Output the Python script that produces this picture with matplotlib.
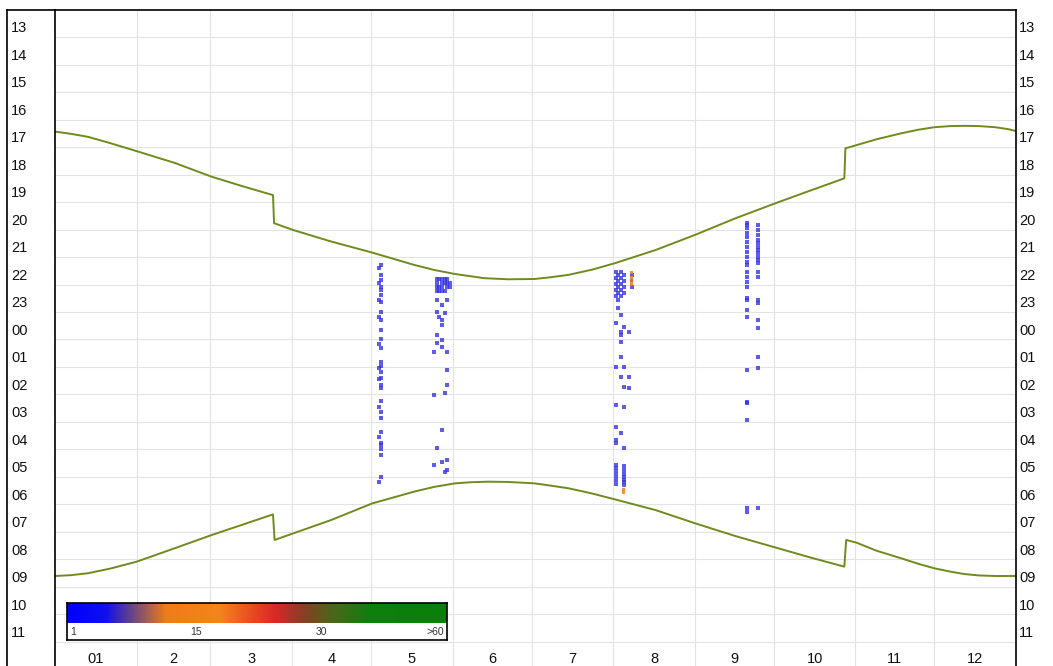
import numpy as np
import matplotlib
matplotlib.use("Agg")
import matplotlib.pyplot as plt
from matplotlib.colors import LinearSegmentedColormap
from matplotlib.lines import Line2D

plt.rcParams["font.family"] = ["Liberation Sans", "DejaVu Sans"]

W, H = 1053, 666

# months along x (day of year), hours noon -> noon along y
month_labels = ["01", "2", "3", "4", "5", "6", "7", "8", "9", "10", "11", "12"]
month_len = [31, 28, 31, 30, 31, 30, 31, 31, 30, 31, 30, 31]
hour_labels = ["13", "14", "15", "16", "17", "18", "19", "20", "21", "22", "23",
               "00", "01", "02", "03", "04", "05", "06", "07", "08", "09", "10", "11"]

# evening and morning twilight (clock time, DST jumps in March / October)
dusk_day = [0, 6, 12.5, 21, 31, 45.5, 59.5, 71, 82.8, 83.2, 90.5, 105, 120.5, 136.5,
            144, 152, 163, 172, 182, 188, 195, 204, 212.5, 228, 243, 258.5, 273.5,
            287, 299.8, 300.2, 304.5, 312, 321.5, 328, 334, 340, 345.5, 351, 357,
            362, 365]
dusk_hour = [17.44, 17.52, 17.63, 17.86, 18.15, 18.58, 19.08, 19.42, 19.75, 20.77,
             21.02, 21.44, 21.84, 22.29, 22.47, 22.62, 22.77, 22.81, 22.80, 22.74,
             22.65, 22.46, 22.23, 21.75, 21.20, 20.59, 20.05, 19.58, 19.14, 18.05,
             17.93, 17.72, 17.50, 17.37, 17.28, 17.24, 17.23, 17.24, 17.28, 17.35,
             17.42]
dawn_day = [0, 6, 12.5, 21, 31, 45.5, 59.5, 71, 82.8, 83.4, 90.5, 105, 120.5, 136.5,
            144, 152, 158, 164.5, 172, 182, 188, 195, 204, 212.5, 228, 243, 258.5,
            273.5, 287, 299.8, 300.5, 304.5, 312, 321.5, 328, 334, 340, 345.5, 351,
            357, 365]
dawn_hour = [9.60, 9.57, 9.50, 9.33, 9.08, 8.59, 8.11, 7.74, 7.36, 8.29, 8.05, 7.56,
             6.96, 6.53, 6.36, 6.23, 6.19, 6.17, 6.18, 6.23, 6.31, 6.41, 6.60, 6.81,
             7.20, 7.68, 8.15, 8.56, 8.93, 9.26, 8.29, 8.39, 8.68, 8.96, 9.16, 9.32,
             9.44, 9.53, 9.58, 9.60, 9.60]

# detections per night (day of year -> clock times), one call each
t123 = [22.4, 22.95, 23.55, 0.2, 1.15, 2.05, 2.45, 3.45, 4.55, 6.2]
t124 = [22.3, 22.65, 22.85, 23.1, 23.2, 23.4, 23.65, 0.0, 0.3, 0.65, 1.0, 1.3, 1.8,
        1.95, 2.2, 2.4, 2.65, 2.75, 3.25, 3.65, 3.85, 4.35, 4.75, 4.85, 5.0, 5.2, 6.0]
t144 = [1.45, 3.02, 5.56]
t145 = [22.8, 22.95, 23.1, 23.25, 23.56, 0.0, 0.84, 1.13, 4.95]
t146 = [22.8, 23.1, 23.25, 0.18]
t147 = [22.8, 22.95, 23.1, 23.25, 23.75, 0.29, 0.47, 1.02, 1.27, 4.29, 5.45]
t148 = [22.8, 22.95, 23.25, 0.04, 2.95, 5.82]
t149 = [22.8, 22.95, 23.1, 23.56, 1.45, 2.11, 2.65, 5.38, 5.75]
t150 = [22.95, 23.1]
t213 = [22.55, 22.76, 22.98, 23.2, 23.42, 0.4, 2.0, 3.38, 4.18, 4.65, 4.76, 5.56,
        5.67, 5.82, 5.96, 6.11, 6.25]
t214 = [22.65, 22.87, 23.09, 23.31, 23.56, 23.85]
t215 = [22.55, 22.76, 22.98, 23.2, 23.42, 0.11, 0.73, 0.84, 1.09, 1.64, 2.36, 4.4]
t216 = [22.65, 22.87, 23.09, 23.31, 0.55, 2.0, 2.73, 3.45, 4.95, 5.6, 5.75, 5.9,
        6.0, 6.1, 6.2, 6.3]
t218 = [0.73, 2.36, 2.76]
t219 = [22.65, 23.09]
t263 = [20.76, 20.84, 20.95, 21.13, 21.27, 21.45, 21.64, 21.82, 22.0, 22.18, 22.29,
        22.55, 22.73, 22.91, 23.09, 23.49, 23.56, 23.93, 0.18, 2.11, 3.27, 3.31,
        3.93, 7.13, 7.27]
t267 = [20.84, 21.02, 21.2, 21.38, 21.49, 21.64, 21.75, 21.85, 22.0, 22.11, 22.22,
        22.55, 22.73, 23.56, 23.67, 0.29, 0.58, 1.64, 2.04, 7.13]

# busier minutes with more calls
hot_day = [219, 219, 219, 219, 216, 216]
hot_time = [22.55, 22.76, 22.87, 22.98, 6.45, 6.55]
hot_count = [14, 16, 22, 12, 13, 15]

scale_values = [1, 15, 30, 60]
scale_labels = ["1", "15", "30", ">60"]
scale_pos = [0.0, 0.34, 0.67, 1.0]

cmap = LinearSegmentedColormap.from_list("calls", [
    (0.0, "#0000ff"), (0.10, "#1010f0"), (0.17, "#6a4585"), (0.26, "#f07c18"),
    (0.40, "#f5841c"), (0.50, "#e6441f"), (0.55, "#d8282a"), (0.62, "#8c3d26"),
    (0.70, "#4b661a"), (0.80, "#0d800d"), (1.0, "#0a7f0a")])


def to_axis(h):
    h = np.asarray(h, dtype=float)
    return np.where(h < 12, h + 24, h)


fig = plt.figure(figsize=(W / 100, H / 100), dpi=100)
ax_top = 9.5
ax = fig.add_axes([55 / W, 1 - (ax_top + 660) / H, 961 / W, 660 / H])
ax.set_xlim(0, 365)
ax.set_ylim(37, 13)

month_start = np.cumsum([0] + month_len)
ax.set_xticks(month_start[1:-1])
ax.set_yticks(range(14, 37))
ax.tick_params(length=0, labelleft=False, labelbottom=False)
ax.grid(color="#e3e3e3", lw=0.8)
ax.set_axisbelow(True)
for side in ("left", "right", "top", "bottom"):
    ax.spines[side].set_color("black")
    ax.spines[side].set_linewidth(1.2)

line_color = "#6e8c1e"
ax.plot(dusk_day, to_axis(dusk_hour), color=line_color, lw=1.4)
ax.plot(dawn_day, to_axis(dawn_hour), color=line_color, lw=1.4)

nights = [(123, t123), (124, t124), (144, t144), (145, t145), (146, t146),
          (147, t147), (148, t148), (149, t149), (150, t150), (213, t213),
          (214, t214), (215, t215), (216, t216), (218, t218), (219, t219),
          (263, t263), (267, t267)]
xs, ys = [], []
for day, times in nights:
    xs += [day] * len(times)
    ys += list(to_axis(times))
ax.scatter(xs, ys, s=5, marker="s", color="#3434e4", alpha=0.8, lw=0)

hot_frac = np.interp(hot_count, scale_values, scale_pos)
ax.scatter(hot_day, to_axis(hot_time), s=5, marker="s", color=cmap(hot_frac),
           alpha=0.85, lw=0)

# month names in the last row
for i, lab in enumerate(month_labels):
    ax.text(month_start[i] + month_len[i] / 2, 36.62, lab, ha="center", va="center",
            fontsize=10.5, color="#111111")

# hour labels on both sides
for i, lab in enumerate(hour_labels):
    y = 13 + i + 0.68
    ax.text((11 - 55) / 961, y, lab, transform=ax.get_yaxis_transform(),
            ha="left", va="center", fontsize=10.5, color="#111111")
    ax.text((1019 - 55) / 961, y, lab, transform=ax.get_yaxis_transform(),
            ha="left", va="center", fontsize=10.5, color="#111111")

# outer frame around the left labels
fig.add_artist(Line2D([7 / W, 7 / W], [0, 1 - ax_top / H], color="black", lw=1.2))
fig.add_artist(Line2D([7 / W, 55 / W], [1 - ax_top / H, 1 - ax_top / H],
                      color="black", lw=1.2))

# colour scale
cax = fig.add_axes([67 / W, 1 - 640 / H, 380 / W, 37 / H])
cax.set_xlim(0, 1)
cax.set_ylim(0, 1)
grad = np.linspace(0, 1, 400).reshape(1, -1)
cax.imshow(grad, cmap=cmap, aspect="auto", extent=[0, 1, 0.47, 1])
cax.set_xticks([])
cax.set_yticks([])
for side in cax.spines.values():
    side.set_linewidth(1.2)
for pos, lab in zip(scale_pos, scale_labels):
    ha = "left" if pos == 0 else ("right" if pos == 1 else "center")
    x = pos + (0.008 if pos == 0 else (-0.008 if pos == 1 else 0))
    cax.text(x, 0.22, lab, ha=ha, va="center", fontsize=7.5, color="#333333")

fig.savefig("out.png", dpi=100)
